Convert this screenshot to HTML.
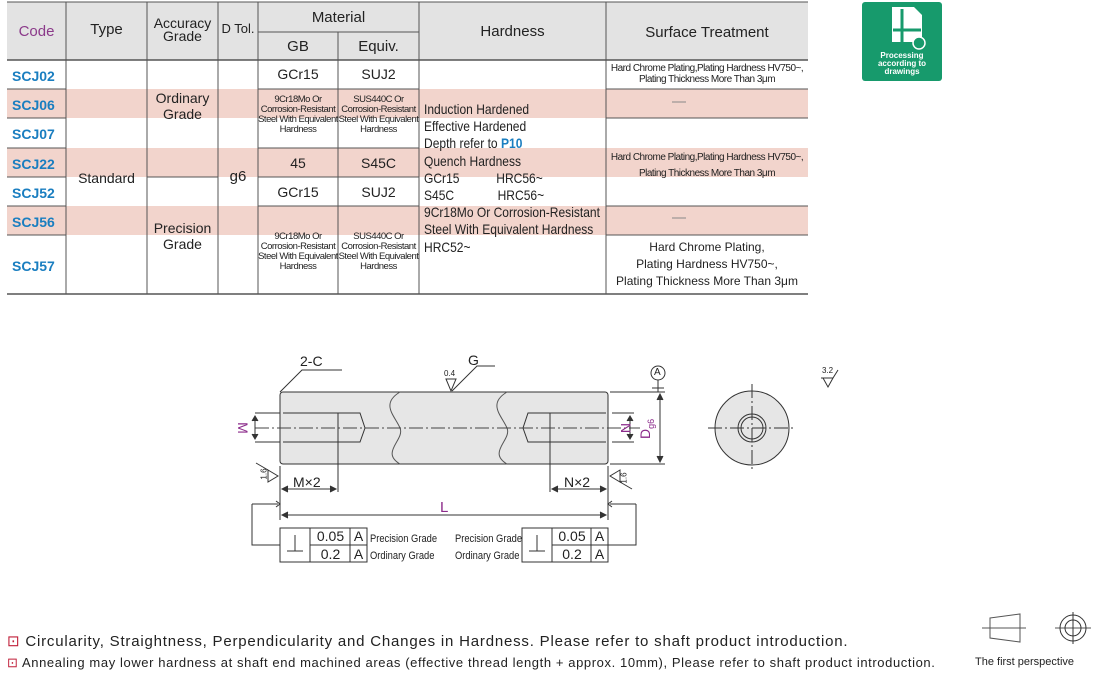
<!DOCTYPE html>
<html><head><meta charset="utf-8"><style>
body{margin:0;width:1110px;height:677px;background:#fff;position:relative;overflow:hidden;font-family:"Liberation Sans",sans-serif;color:#222}
.t{position:absolute;text-align:center;line-height:1}
.n{font-family:"Liberation Sans",sans-serif;}
.c{color:#1a7ec0;font-weight:bold;font-size:14px;position:absolute;left:12px}
</style></head><body>
<svg width="1110" height="677" style="position:absolute;left:0;top:0">
<rect x="7" y="2" width="801" height="58" fill="#e3e3e3"/>
<g fill="#f2d4cc">
<rect x="7" y="89" width="801" height="29"/><rect x="7" y="148" width="801" height="29"/><rect x="7" y="206" width="801" height="29"/>
</g>
<g stroke="#555" stroke-width="1" fill="none">
<line x1="7" y1="2" x2="808" y2="2"/><line x1="7" y1="60" x2="808" y2="60" stroke-width="1.5"/>
<line x1="7" y1="294" x2="808" y2="294" stroke-width="1.5"/>
<line x1="258" y1="32" x2="419" y2="32"/>
<line x1="66" y1="2" x2="66" y2="294"/><line x1="147" y1="2" x2="147" y2="294"/><line x1="218" y1="2" x2="218" y2="294"/>
<line x1="258" y1="2" x2="258" y2="294"/><line x1="338" y1="32" x2="338" y2="294"/><line x1="419" y1="2" x2="419" y2="294"/><line x1="606" y1="2" x2="606" y2="294"/>
<path d="M7 89H66M7 118H66M7 148H66M7 177H66M7 206H66M7 235H66"/>
<path d="M147 177H218"/>
<path d="M258 89H419M258 148H419M258 177H419M258 206H419"/>
<path d="M606 89H808M606 118H808M606 206H808M606 235H808"/>
</g>
<g stroke="#888" stroke-width="1"><line x1="672" y1="102" x2="686" y2="102"/><line x1="672" y1="218" x2="686" y2="218"/></g>
<rect x="862" y="2" width="80" height="79" rx="3" fill="#179a6c"/>
<path d="M892 7h22l8 8v27h-30z" fill="#fff"/>
<path d="M902 9v35M893 30h28" stroke="#179a6c" stroke-width="3"/>
<circle cx="919" cy="43" r="6" fill="#179a6c" stroke="#fff" stroke-width="1.5"/>

<g stroke="#333" stroke-width="1" fill="none">
<rect x="280" y="392" width="328" height="72" rx="3" fill="#e6e6e6"/>
<path d="M400 392c-20 12-5 24 0 36s-20 24 0 36M507 392c-20 12-5 24 0 36s-20 24 0 36" stroke="#555"/>
<path d="M283 413h55v29h-55M338 413h22l5 15-5 14h-22"/>
<path d="M606 413h-56v29h56M550 413h-22l-5 15 5 14h22"/>
<line x1="255" y1="428" x2="640" y2="428" stroke-dasharray="14,3,2,3" stroke="#444"/>
<path d="M280 392l22-22h40"/><path d="M452 391l25-25h18"/>
<path d="M446 379l5 12 5-12z"/><line x1="446" y1="379" x2="456" y2="379"/>
<path d="M610 392h55M610 464h55M612 413h22M612 442h22"/>
<line x1="660" y1="394" x2="660" y2="462"/><path d="M657 400l3-6 3 6M657 456l3 6 3-6" fill="#333"/>
<line x1="630" y1="416" x2="630" y2="439"/>
<path d="M627 421l3-5 3 5M627 434l3 5 3-5" fill="#333"/>
<line x1="255" y1="413" x2="280" y2="413"/><line x1="255" y1="442" x2="280" y2="442"/>
<line x1="255" y1="416" x2="255" y2="439"/><path d="M252 421l3-5 3 5M252 434l3 5 3-5" fill="#333"/>
<circle cx="658" cy="373" r="7"/><line x1="658" y1="380" x2="658" y2="392"/><line x1="652" y1="388" x2="664" y2="388"/>
<path d="M280 466v54M338 442v50M608 466v54M550 442v50"/>
<line x1="282" y1="489" x2="336" y2="489"/><line x1="552" y1="489" x2="606" y2="489"/>
<line x1="282" y1="515" x2="606" y2="515"/>
<path d="M288 486l-6 3 6 3M330 486l6 3-6 3M558 486l-6 3 6 3M600 486l6 3-6 3M288 512l-6 3 6 3M600 512l6 3-6 3" fill="#333"/>
<path d="M268 470l10 6-10 6z"/><line x1="268" y1="470" x2="256" y2="463"/>
<path d="M620 470l-10 6 10 6z"/><line x1="620" y1="482" x2="632" y2="489"/>
<path d="M252 504v41h28M276 501l4 3-4 3" /><line x1="252" y1="504" x2="278" y2="504"/>
<path d="M636 504v41h-28M612 501l-4 3 4 3"/><line x1="636" y1="504" x2="610" y2="504"/>
<rect x="280" y="528" width="87" height="34"/><path d="M310 528v34M350 528v34M310 545h57M287 551h16M295 535v16"/>
<rect x="522" y="528" width="86" height="34"/><path d="M552 528v34M591 528v34M552 545h56M529 551h16M537 535v16"/>
<circle cx="752" cy="428" r="37" fill="#e6e6e6"/>
<circle cx="752" cy="428" r="14"/><circle cx="752" cy="428" r="11"/>
<path d="M708 428h88M752 384v88" stroke-dasharray="14,3,2,3"/>
<path d="M823 378l5 9 5-9zM821 378h12l5-8"/>
<path d="M990 618l30-4v28l-30-4zM982 628h44M1055 628h36" stroke="#555"/>
<circle cx="1073" cy="628" r="13"/><circle cx="1073" cy="628" r="8"/><line x1="1073" y1="612" x2="1073" y2="644"/>
</g>
</svg>
<div class="t" style="left:7px;top:24px;width:59px;font-size:15px;color:#8b3a8a">Code</div>
<div class="t" style="left:66px;top:22px;width:81px;font-size:15px">Type</div>
<div class="t" style="left:147px;top:17px;width:71px;font-size:14px;line-height:13px">Accuracy<br>Grade</div>
<div class="t" style="left:218px;top:22px;width:40px;font-size:13px">D Tol.</div>
<div class="t" style="left:258px;top:10px;width:161px;font-size:15px">Material</div>
<div class="t" style="left:258px;top:39px;width:80px;font-size:15px">GB</div>
<div class="t" style="left:338px;top:39px;width:81px;font-size:15px">Equiv.</div>
<div class="t" style="left:419px;top:24px;width:187px;font-size:15px">Hardness</div>
<div class="t" style="left:606px;top:25px;width:202px;font-size:15px">Surface Treatment</div>
<div class="c" style="top:68px">SCJ02</div><div class="c" style="top:97px">SCJ06</div><div class="c" style="top:126px">SCJ07</div>
<div class="c" style="top:156px">SCJ22</div><div class="c" style="top:185px">SCJ52</div><div class="c" style="top:214px">SCJ56</div>
<div class="c" style="top:258px">SCJ57</div>
<div class="t" style="left:66px;top:171px;width:81px;font-size:14px">Standard</div>
<div class="t" style="left:147px;top:90px;width:71px;font-size:14px;line-height:16px">Ordinary<br>Grade</div>
<div class="t" style="left:147px;top:220px;width:71px;font-size:14px;line-height:16px">Precision<br>Grade</div>
<div class="t" style="left:218px;top:169px;width:40px;font-size:15px">g6</div>
<div class="t" style="left:258px;top:67px;width:80px;font-size:14px">GCr15</div><div class="t" style="left:338px;top:67px;width:81px;font-size:14px">SUJ2</div>
<div class="t n" style="left:258px;top:95px;width:80px;font-size:9.5px;line-height:10px;letter-spacing:-0.5px">9Cr18Mo Or<br>Corrosion-Resistant<br>Steel With Equivalent<br>Hardness</div>
<div class="t n" style="left:338px;top:95px;width:81px;font-size:9.5px;line-height:10px;letter-spacing:-0.5px">SUS440C Or<br>Corrosion-Resistant<br>Steel With Equivalent<br>Hardness</div>
<div class="t" style="left:258px;top:156px;width:80px;font-size:14px">45</div><div class="t" style="left:338px;top:156px;width:81px;font-size:14px">S45C</div>
<div class="t" style="left:258px;top:185px;width:80px;font-size:14px">GCr15</div><div class="t" style="left:338px;top:185px;width:81px;font-size:14px">SUJ2</div>
<div class="t n" style="left:258px;top:232px;width:80px;font-size:9.5px;line-height:10px;letter-spacing:-0.5px">9Cr18Mo Or<br>Corrosion-Resistant<br>Steel With Equivalent<br>Hardness</div>
<div class="t n" style="left:338px;top:232px;width:81px;font-size:9.5px;line-height:10px;letter-spacing:-0.5px">SUS440C Or<br>Corrosion-Resistant<br>Steel With Equivalent<br>Hardness</div>
<div style="position:absolute;left:424px;top:101px;font-size:14px;line-height:17.2px;transform:scaleX(0.86);transform-origin:0 0;white-space:nowrap">Induction Hardened<br>Effective Hardened<br>Depth refer to <b style="color:#1a7ec0">P10</b><br>Quench Hardness<br>GCr15&nbsp;&nbsp;&nbsp;&nbsp;&nbsp;&nbsp;&nbsp;&nbsp;&nbsp;&nbsp;&nbsp;HRC56~<br>S45C&nbsp;&nbsp;&nbsp;&nbsp;&nbsp;&nbsp;&nbsp;&nbsp;&nbsp;&nbsp;&nbsp;&nbsp;&nbsp;HRC56~<br>9Cr18Mo Or Corrosion-Resistant<br>Steel With Equivalent Hardness<br>HRC52~</div>
<div class="t n" style="left:606px;top:63px;width:202px;font-size:10px;line-height:11px;letter-spacing:-0.5px">Hard Chrome Plating,Plating Hardness HV750~,<br>Plating Thickness More Than 3μm</div>
<div class="t n" style="left:606px;top:150px;width:202px;font-size:10px;line-height:16px;letter-spacing:-0.5px">Hard Chrome Plating,Plating Hardness HV750~,<br>Plating Thickness More Than 3μm</div>
<div class="t n" style="left:606px;top:239px;width:202px;font-size:12px;line-height:17px">Hard Chrome Plating,<br>Plating Hardness HV750~,<br>Plating Thickness More Than 3μm</div>
<div class="t" style="left:300px;top:354px;font-size:14px">2-C</div>
<div class="t" style="left:468px;top:353px;font-size:14px">G</div>
<div class="t" style="left:444px;top:370px;font-size:8px">0.4</div>
<div class="t" style="left:654px;top:368px;font-size:10px">A</div>
<div class="t" style="left:237px;top:421px;font-size:14px;color:#8b2a8a;transform:rotate(90deg)">M</div>
<div class="t" style="left:621px;top:421px;font-size:14px;color:#8b2a8a;transform:rotate(90deg)">N</div>
<div class="t" style="left:637px;top:420px;font-size:14px;color:#8b2a8a;transform:rotate(-90deg)">D<sub style="font-size:9px">g6</sub></div>
<div class="t" style="left:293px;top:475px;font-size:14px">M×2</div>
<div class="t" style="left:564px;top:475px;font-size:14px">N×2</div>
<div class="t" style="left:440px;top:500px;font-size:15px;color:#8b2a8a">L</div>
<div class="t" style="left:259px;top:470px;font-size:8px;transform:rotate(-90deg)">1.6</div>
<div class="t" style="left:619px;top:474px;font-size:8px;transform:rotate(-90deg)">1.6</div>
<div class="t" style="left:822px;top:367px;font-size:8px">3.2</div>
<div class="t" style="left:311px;top:529px;width:39px;font-size:14px">0.05</div><div class="t" style="left:350px;top:529px;width:17px;font-size:14px">A</div>
<div class="t" style="left:311px;top:547px;width:39px;font-size:14px">0.2</div><div class="t" style="left:350px;top:547px;width:17px;font-size:14px">A</div>
<div class="t" style="left:553px;top:529px;width:38px;font-size:14px">0.05</div><div class="t" style="left:591px;top:529px;width:17px;font-size:14px">A</div>
<div class="t" style="left:553px;top:547px;width:38px;font-size:14px">0.2</div><div class="t" style="left:591px;top:547px;width:17px;font-size:14px">A</div>
<div class="t n" style="left:370px;top:531px;font-size:11px;text-align:left;line-height:17px;transform:scaleX(0.85);transform-origin:0 0">Precision Grade<br>Ordinary Grade</div>
<div class="t n" style="left:455px;top:531px;font-size:11px;text-align:left;line-height:17px;transform:scaleX(0.85);transform-origin:0 0">Precision Grade<br>Ordinary Grade</div>
<div class="t" style="left:863px;top:52px;width:78px;font-size:8px;font-weight:bold;color:#fff;line-height:8px">Processing<br>according to<br>drawings</div>
<div style="position:absolute;left:7px;top:631px;font-size:15px;line-height:22px;white-space:nowrap;letter-spacing:0.8px"><span style="color:#c0203a">⊡</span> Circularity, Straightness, Perpendicularity and Changes in Hardness. Please refer to shaft product introduction.</div>
<div style="position:absolute;left:7px;top:654px;font-size:13px;line-height:18px;white-space:nowrap;letter-spacing:0.6px"><span style="color:#c0203a">⊡</span> Annealing may lower hardness at shaft end machined areas (effective thread length + approx. 10mm), Please refer to shaft product introduction.</div>
<div class="t n" style="left:975px;top:657px;font-size:11px">The first perspective</div>
</body></html>
